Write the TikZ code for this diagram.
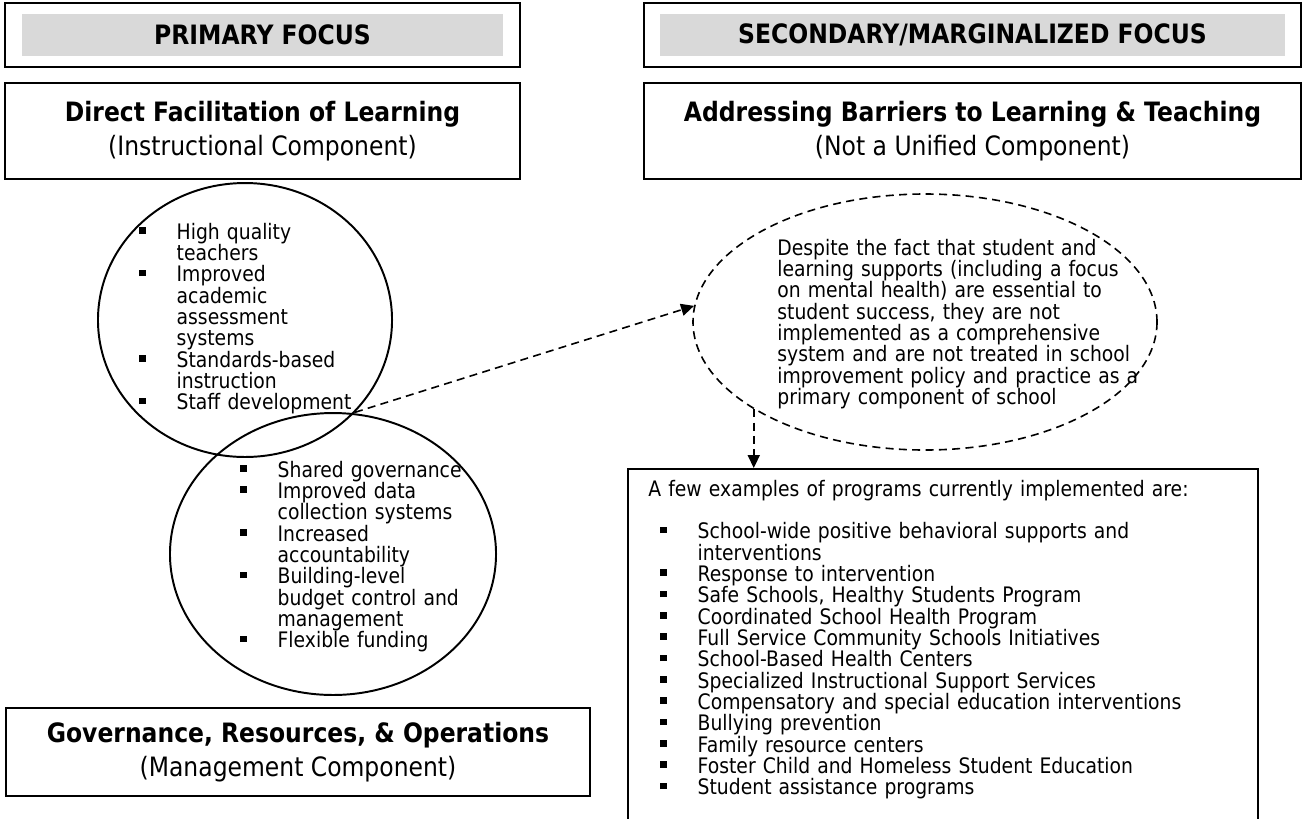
\documentclass[tikz,border=0pt]{standalone}
\usepackage{fontspec}
\setmainfont{DejaVu Sans}[FakeStretch=0.88]
\usepackage{tikz}
\usetikzlibrary{arrows.meta,shapes.geometric}
\definecolor{bandgray}{HTML}{D9D9D9}
\newcommand{\bodysize}{\fontsize{12}{12}\selectfont}
\newcommand{\sqbul}{\rule[3.1pt]{3.7pt}{3.7pt}}
% bullet hangs out into the left skip of the list
\newcommand{\blt}{\hspace*{-21pt}\makebox[21pt][l]{\sqbul}}
\tikzset{
  headbox/.style={
    rectangle, draw, line width=1.1pt, inner sep=0pt,
    minimum width=#1, minimum height=36pt
  },
  headbox/.default=289.7pt,
  band/.style={
    rectangle, fill=bandgray, inner sep=0pt,
    minimum width=#1, minimum height=23.6pt,
    font=\fontsize{15}{19.5}\selectfont\bfseries
  },
  band/.default=271.1pt,
  compbox/.style={
    rectangle, draw, line width=1.1pt, inner sep=0pt,
    minimum width=#1, minimum height=54pt, align=center,
    font=\fontsize{15}{19.5}\selectfont
  },
  compbox/.default=289.7pt,
  ring/.style={ellipse, draw, line width=1.1pt, inner sep=0pt},
  listtext/.style={
    inner sep=0pt, anchor=base west, text width=#1, font=\bodysize
  },
  listtext/.default=150pt,
  flow/.style={
    -{Triangle[length=7.3pt,width=6.8pt]}, line width=0.9pt,
    dash pattern=on 4.5pt off 3pt
  },
}

\begin{document}
\begin{tikzpicture}[x=0.5625pt, y=-0.5625pt]
  \useasboundingbox (0,0) rectangle (1306,818);
  \clip (0,0) rectangle (1306,818);

  % column heads
  \node[headbox] (lhead) at (262.5,35) {};
  \node[band] (ltag) at (lhead) {PRIMARY FOCUS};
  \node[headbox=369.6pt] (rhead) at (972.5,35) {};
  \node[band=351.6pt] (rtag) at (rhead) {SECONDARY/MARGINALIZED FOCUS};

  \node[compbox] (instrbox) at (262.5,131)
    {\textbf{Direct Facilitation of Learning}\\(Instructional Component)};
  \node[compbox=369.6pt] (barrbox) at (972.5,131)
    {\textbf{Addressing Barriers to Learning \& Teaching}\\(Not a Unified Component)};
  \node[compbox=328.5pt, minimum height=49.5pt] (mgmtbox) at (298,752)
    {\textbf{Governance, Resources, \& Operations}\\(Management Component)};

  % overlapping circles
  \node[ring, minimum width=165.4pt, minimum height=154.1pt] (instr) at (245,320) {};
  \node[ring, minimum width=183.4pt, minimum height=158.6pt] (mgmt) at (333,554) {};
  \node[listtext] (instrlist) at (139,239) {\leftskip=21pt
    \blt High quality\\teachers\par
    \blt Improved\\academic\\assessment\\systems\par
    \blt Standards-based\\instruction\par
    \blt Staff development\par};
  \node[listtext] (mgmtlist) at (240,477) {\leftskip=21pt
    \blt Shared governance\par
    \blt Improved data\\collection systems\par
    \blt Increased\\accountability\par
    \blt Building-level\\budget control and\\management\par
    \blt Flexible funding\par};

  % supports that stay on the margin
  \node[ring, dash pattern=on 4.5pt off 3pt, line width=0.9pt,
    minimum width=261pt, minimum height=144pt] (gap) at (925,322) {};
  \node[listtext=230pt] (gaptext) at (777,255) {%
    Despite the fact that student and\\
    learning supports (including a focus\\
    on mental health) are essential to\\
    student success, they are not\\
    implemented as a comprehensive\\
    system and are not treated in school\\
    improvement policy and practice as a\\
    primary component of school};

  \node[rectangle, draw, line width=1.1pt, inner sep=0pt, anchor=north west,
    minimum width=354.4pt, minimum height=225pt] (progs) at (627,468) {};
  \node[listtext=320pt] (progintro) at (648,496)
    {A few examples of programs currently implemented are:};
  \node[listtext=320pt] (proglist) at (660,538.7) {\leftskip=21pt
    \blt School-wide positive behavioral supports and\\interventions\par
    \blt Response to intervention\par
    \blt Safe Schools, Healthy Students Program\par
    \blt Coordinated School Health Program\par
    \blt Full Service Community Schools Initiatives\par
    \blt School-Based Health Centers\par
    \blt Specialized Instructional Support Services\par
    \blt Compensatory and special education interventions\par
    \blt Bullying prevention\par
    \blt Family resource centers\par
    \blt Foster Child and Homeless Student Education\par
    \blt Student assistance programs\par};

  \draw[flow] (instr.-40) -- (gap.176);
  \draw[flow] (gap.207.6) -- (gap.207.6 |- progs.north);
\end{tikzpicture}
\end{document}
